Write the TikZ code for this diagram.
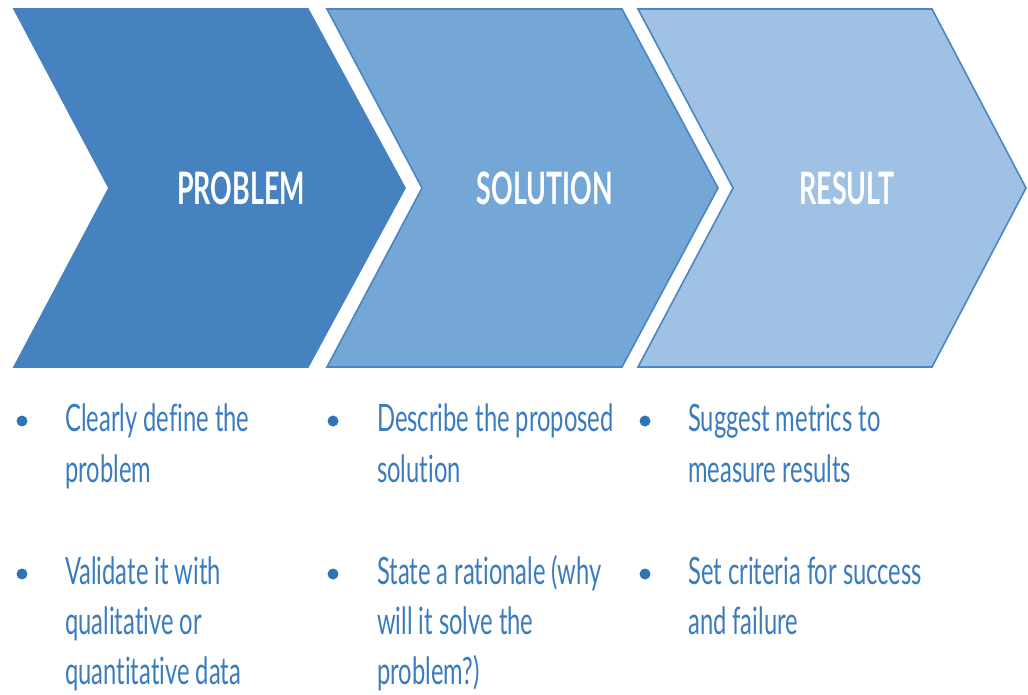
\documentclass[tikz,border=0pt]{standalone}
\usepackage{fontspec}
\newfontfamily\bodyfont[FakeStretch=0.63,Ligatures=NoCommon]{Lato}
\newfontfamily\headfont[FakeStretch=0.6,Ligatures=NoCommon]{Lato}
\definecolor{cA}{RGB}{70,130,192}
\definecolor{cB}{RGB}{116,166,214}
\definecolor{cC}{RGB}{159,193,227}
\definecolor{edge}{RGB}{74,134,196}
\definecolor{txt}{RGB}{58,123,190}
\definecolor{dot}{RGB}{46,117,182}
\tikzset{
  chev/.style={draw=edge, line width=1.6pt, line join=miter},
  head/.style={text=white, inner sep=0pt, anchor=base, font=\headfont\bfseries\fontsize{44.7}{50}\selectfont},
  body/.style={text=txt, inner sep=0pt, anchor=base west, font=\bodyfont\fontsize{37.7}{50}\selectfont},
  bul/.style={circle, fill=dot, inner sep=0pt, minimum size=11pt}
}
\begin{document}
\begin{tikzpicture}[x=1pt,y=-1pt]
\useasboundingbox (0,0) rectangle (1028,694);
% chevrons
\draw[chev, fill=cA, draw=cA] (14,9) -- (308,9) -- (405,188) -- (308,367) -- (14,367) -- (109,188) -- cycle;
\draw[chev, fill=cB] (327,9) -- (622,9) -- (718,188) -- (622,367) -- (327,367) -- (422,188) -- cycle;
\draw[chev, fill=cC] (638,9) -- (932,9) -- (1026,188) -- (932,367) -- (638,367) -- (733,188) -- cycle;
% titles
\node[head] (t1) at (241,204) {PROBLEM};
\node[head] (t2) at (545,204) {SOLUTION};
\node[head] (t3) at (847,204) {RESULT};
% column 1
\node[bul] (b11) at (22,421) {};
\node[body] (l11) at (65,431) {Clearly define the};
\node[body] (l12) at (65,482) {problem};
\node[bul] (b12) at (22,574) {};
\node[body] (l13) at (65,584) {Validate it with};
\node[body] (l14) at (65,634) {qualitative or};
\node[body] (l15) at (65,684) {quantitative data};
% column 2
\node[bul] (b21) at (333,421) {};
\node[body] (l21) at (377,431) {Describe the proposed};
\node[body] (l22) at (377,482) {solution};
\node[bul] (b22) at (333,574) {};
\node[body] (l23) at (377,584) {State a rationale (why};
\node[body] (l24) at (377,634) {will it solve the};
\node[body] (l25) at (377,684) {problem?)};
% column 3
\node[bul] (b31) at (645,421) {};
\node[body] (l31) at (688,431) {Suggest metrics to};
\node[body] (l32) at (688,482) {measure results};
\node[bul] (b32) at (645,574) {};
\node[body] (l33) at (688,584) {Set criteria for success};
\node[body] (l34) at (688,634) {and failure};
\end{tikzpicture}
\end{document}
